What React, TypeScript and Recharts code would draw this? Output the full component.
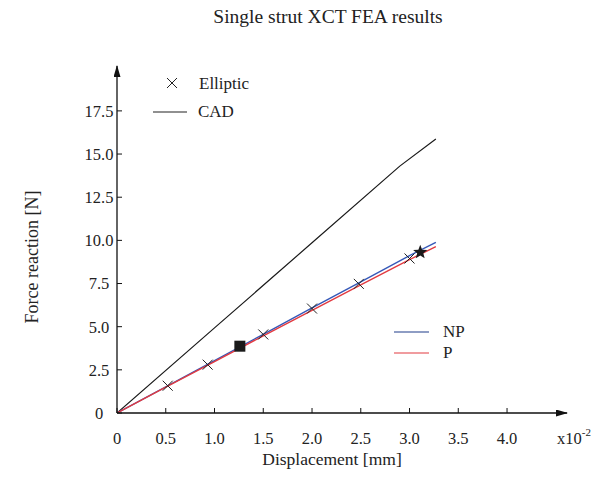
import { ComposedChart, Line, Scatter, XAxis, YAxis, Legend } from 'recharts'

const dispTicks = [0, 0.5, 1.0, 1.5, 2.0, 2.5, 3.0, 3.5, 4.0]
const forceTicks = [0, 2.5, 5.0, 7.5, 10.0, 12.5, 15.0, 17.5]

const cadDisp = [0, 1.0, 2.0, 2.9, 3.27]
const cadForce = [0, 4.93, 9.86, 14.3, 15.87]

const npDisp = [0, 0.5, 1.0, 1.5, 2.0, 2.5, 3.0, 3.27]
const npForce = [0, 1.52, 3.03, 4.56, 6.09, 7.6, 9.12, 9.88]
const pForce = [0, 1.5, 2.98, 4.47, 5.95, 7.42, 8.88, 9.64]

const ellipticDisp = [0.52, 0.93, 1.5, 2.0, 2.48, 3.0]
const ellipticForce = [1.58, 2.8, 4.55, 6.05, 7.48, 8.95]

const squareDisp = [1.26]
const squareForce = [3.87]
const starDisp = [3.11]
const starForce = [9.31]

const SERIF = '"Liberation Serif", "Times New Roman", serif'
const INK = '#222'
const BLUE = '#3558b8'
const RED = '#e23a40'

const pairs = (xs: number[], ys: number[]) => xs.map((d, i) => ({ d, f: ys[i] }))

const cadData = pairs(cadDisp, cadForce)
const npData = pairs(npDisp, npForce)
const pData = pairs(npDisp, pForce)
const ellipticData = pairs(ellipticDisp, ellipticForce)
const squareData = pairs(squareDisp, squareForce)
const starData = pairs(starDisp, starForce)

const fmt = (v: number) => (v === 0 ? '0' : v.toFixed(1))

function Cross(props: any) {
  const { cx, cy } = props
  const s = 5
  return (
    <g stroke={INK} strokeWidth={1}>
      <line x1={cx - s} y1={cy - s} x2={cx + s} y2={cy + s} />
      <line x1={cx - s} y1={cy + s} x2={cx + s} y2={cy - s} />
    </g>
  )
}

function Square(props: any) {
  const { cx, cy } = props
  return <rect x={cx - 5.5} y={cy - 5.5} width={11} height={11} fill="#1a1a1a" />
}

function Star(props: any) {
  const { cx, cy } = props
  const pts: string[] = []
  for (let i = 0; i < 10; i++) {
    const r = i % 2 === 0 ? 7.5 : 3.2
    const a = -Math.PI / 2 + (i * Math.PI) / 5
    pts.push(`${cx + r * Math.cos(a)},${cy + r * Math.sin(a)}`)
  }
  return <polygon points={pts.join(' ')} fill="#1a1a1a" />
}

function LegendBoxes() {
  return (
    <svg width={602} height={494} style={{ fontFamily: SERIF }}>
      <line x1={167} y1={78} x2={177} y2={88} stroke={INK} />
      <line x1={167} y1={88} x2={177} y2={78} stroke={INK} />
      <text x={199} y={89} fontSize={17} fill={INK}>Elliptic</text>
      <line x1={153} y1={112} x2={187} y2={112} stroke={INK} strokeWidth={1.2} />
      <text x={198} y={117} fontSize={17} fill={INK}>CAD</text>

      <line x1={394} y1={332} x2={429} y2={332} stroke="#1f3c8a" strokeWidth={1.2} />
      <text x={443} y={337} fontSize={17} fill={INK}>NP</text>
      <line x1={394} y1={353} x2={429} y2={353} stroke={RED} strokeWidth={1.2} />
      <text x={443} y={358} fontSize={17} fill={INK}>P</text>
    </svg>
  )
}

export default function App() {
  return (
    <div style={{ position: 'absolute', left: 0, top: 0, width: 602, height: 494, background: '#fff' }}>
      <svg width={0} height={0} style={{ position: 'absolute' }}>
        <defs>
          <marker
            id="axisArrow"
            viewBox="0 0 12 7"
            refX={11}
            refY={3.5}
            markerWidth={12}
            markerHeight={7}
            markerUnits="userSpaceOnUse"
            orient="auto-start-reverse"
          >
            <path d="M0,0 L12,3.5 L0,7 z" fill="#111" />
          </marker>
        </defs>
      </svg>
      <ComposedChart width={602} height={494} margin={{ top: 66, right: 35, bottom: 80, left: 116 }}>
        <XAxis
          type="number"
          dataKey="d"
          domain={[0, 4.615]}
          ticks={dispTicks}
          tickFormatter={fmt}
          height={1}
          tickSize={-5}
          tickMargin={24}
          axisLine={{ stroke: '#111', strokeWidth: 1.3, markerEnd: 'url(#axisArrow)' }}
          tickLine={{ stroke: '#111' }}
          tick={{ fill: INK, fontSize: 16.5, fontFamily: SERIF }}
          allowDataOverflow
        />
        <YAxis
          type="number"
          dataKey="f"
          domain={[0, 20.1]}
          ticks={forceTicks}
          tickFormatter={fmt}
          width={1}
          tickSize={-5}
          tickMargin={23}
          axisLine={{ stroke: '#111', strokeWidth: 1.3, markerStart: 'url(#axisArrow)' }}
          tickLine={{ stroke: '#111' }}
          tick={{ fill: INK, fontSize: 16.5, fontFamily: SERIF, textAnchor: 'middle' }}
          allowDataOverflow
        />
        <Legend
          layout="horizontal"
          verticalAlign="middle"
          align="center"
          wrapperStyle={{ left: 0, top: 0, width: 602, height: 494, pointerEvents: 'none' }}
          content={() => <LegendBoxes />}
        />
        <Line data={cadData} dataKey="f" name="CAD" stroke="#1a1a1a" strokeWidth={1.2} dot={false} isAnimationActive={false} />
        <Line data={npData} dataKey="f" name="NP" stroke={BLUE} strokeWidth={1.4} dot={false} isAnimationActive={false} />
        <Line data={pData} dataKey="f" name="P" stroke={RED} strokeWidth={1.4} dot={false} isAnimationActive={false} />
        <Scatter data={ellipticData} dataKey="f" name="Elliptic" shape={Cross} isAnimationActive={false} />
        <Scatter data={squareData} dataKey="f" name="square" shape={Square} isAnimationActive={false} />
        <Scatter data={starData} dataKey="f" name="star" shape={Star} isAnimationActive={false} />
      </ComposedChart>
      <svg
        width={602}
        height={494}
        style={{ position: 'absolute', left: 0, top: 0, pointerEvents: 'none', fontFamily: SERIF }}
      >
        <text x={328} y={23} fontSize={19.5} textAnchor="middle" fill={INK}>
          Single strut XCT FEA results
        </text>
        <text x={332} y={465} fontSize={17.5} textAnchor="middle" fill={INK}>
          Displacement [mm]
        </text>
        <text x={38} y={257} fontSize={18} textAnchor="middle" fill={INK} transform="rotate(-90 38 257)">
          Force reaction [N]
        </text>
        <text x={557} y={444} fontSize={16.5} fill={INK}>
          x10
          <tspan fontSize={11} dy={-8}>-2</tspan>
        </text>
      </svg>
    </div>
  )
}
